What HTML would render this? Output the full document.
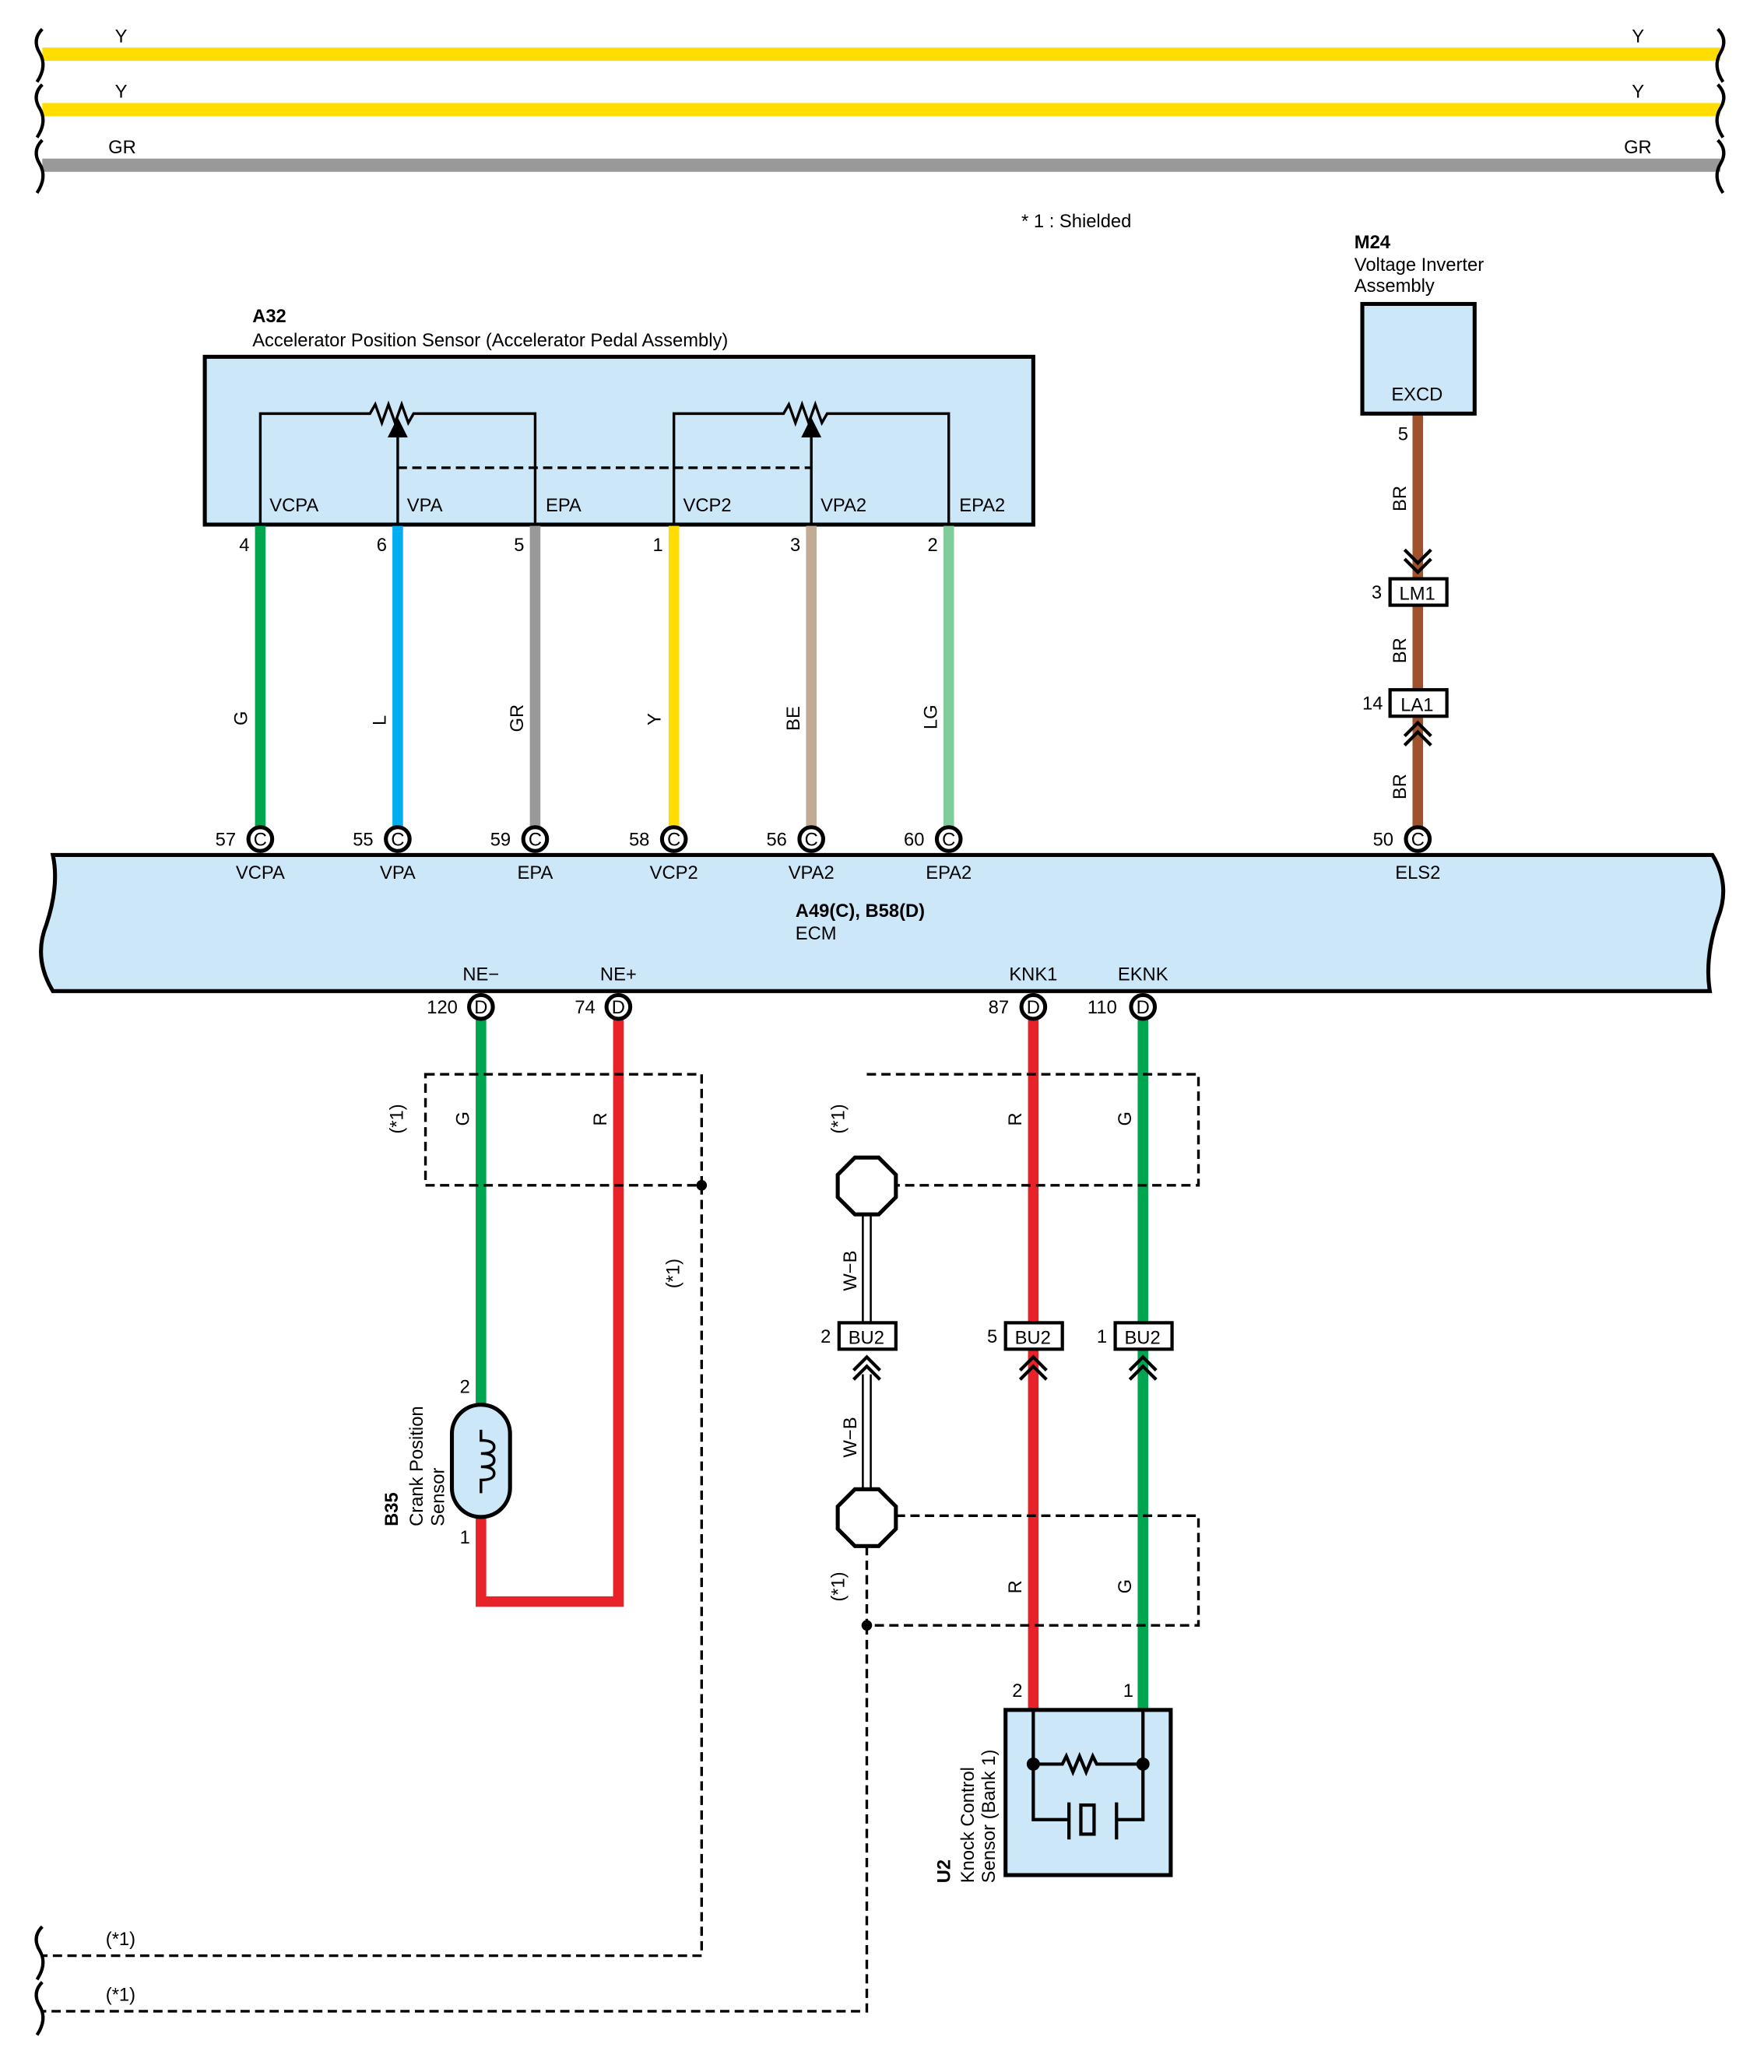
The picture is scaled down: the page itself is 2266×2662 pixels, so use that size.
<!DOCTYPE html>
<html><head><meta charset="utf-8"><style>
html,body{margin:0;padding:0;background:#fff}
svg{display:block}
text{font-family:"Liberation Sans",Arial,sans-serif;font-size:14px;fill:#000}
.b{font-weight:bold}
</style></head><body>
<svg width="2266" height="2662" viewBox="0 0 1335 1568" preserveAspectRatio="none" xmlns="http://www.w3.org/2000/svg">
<defs>
<g id="cC"><circle r="9" fill="#fff" stroke="#000" stroke-width="3"/><text x="0" y="5" text-anchor="middle" font-size="13">C</text></g>
<g id="cD"><circle r="9" fill="#fff" stroke="#000" stroke-width="3"/><text x="0" y="5" text-anchor="middle" font-size="13">D</text></g>
</defs>
<g stroke-width="10" fill="none">
<line x1="32" y1="41" x2="1302" y2="41" stroke="#ffdd00"/>
<line x1="32" y1="83" x2="1302" y2="83" stroke="#ffdd00"/>
<line x1="32" y1="125" x2="1302" y2="125" stroke="#999"/>
</g>
<g stroke="#000" stroke-width="2.5" fill="none">
<path d="M32 22 Q24 30 30 40 Q36 50 28 62"/>
<path d="M32 64 Q24 72 30 82 Q36 92 28 104"/>
<path d="M32 106 Q24 114 30 124 Q36 134 28 146"/>
<path d="M1300 22 Q1308 30 1302 40 Q1296 50 1304 62"/>
<path d="M1300 64 Q1308 72 1302 82 Q1296 92 1304 104"/>
<path d="M1300 106 Q1308 114 1302 124 Q1296 134 1304 146"/>
</g>
<text x="87" y="32">Y</text><text x="87" y="74">Y</text><text x="82" y="116">GR</text>
<text x="1235" y="32">Y</text><text x="1235" y="74">Y</text><text x="1229" y="116">GR</text>
<text x="773" y="172">* 1 : Shielded</text>

<text x="191" y="244" class="b">A32</text>
<text x="191" y="262">Accelerator Position Sensor (Accelerator Pedal Assembly)</text>
<rect x="155" y="270" width="627" height="127" fill="#cce8f8" stroke="#000" stroke-width="3"/>
<g stroke="#000" stroke-width="2" fill="none">
<path d="M197 397 V313 H280 l4 -7 l5 14 l5 -14 l5 14 l5 -14 l5 14 l4 -7 H405 V397"/>
<path d="M301 397 V322"/><path d="M295 330 L301 318 L307 330 Z" fill="#000"/>
<path d="M510 397 V313 H593 l4 -7 l5 14 l5 -14 l5 14 l5 -14 l5 14 l4 -7 H718 V397"/>
<path d="M614 397 V322"/><path d="M608 330 L614 318 L620 330 Z" fill="#000"/>
<path d="M301 354 H614" stroke-dasharray="7 4"/>
</g>
<text x="204" y="387">VCPA</text><text x="308" y="387">VPA</text><text x="413" y="387">EPA</text>
<text x="517" y="387">VCP2</text><text x="621" y="387">VPA2</text><text x="726" y="387">EPA2</text>
<g stroke-width="8">
<line x1="197" y1="398" x2="197" y2="626" stroke="#00a550"/>
<line x1="301" y1="398" x2="301" y2="626" stroke="#00aeef"/>
<line x1="405" y1="398" x2="405" y2="626" stroke="#999"/>
<line x1="510" y1="398" x2="510" y2="626" stroke="#ffdd00"/>
<line x1="614" y1="398" x2="614" y2="626" stroke="#c2ab95"/>
<line x1="718" y1="398" x2="718" y2="626" stroke="#80cc9a"/>
<line x1="1073" y1="313" x2="1073" y2="626" stroke="#a0522d"/>
</g>
<text x="181" y="417">4</text><text x="285" y="417">6</text><text x="389" y="417">5</text>
<text x="494" y="417">1</text><text x="598" y="417">3</text><text x="702" y="417">2</text>
<text transform="translate(187,549) rotate(-90)">G</text>
<text transform="translate(292,549) rotate(-90)">L</text>
<text transform="translate(396,554) rotate(-90)">GR</text>
<text transform="translate(500,549) rotate(-90)">Y</text>
<text transform="translate(605,553) rotate(-90)">BE</text>
<text transform="translate(709,552) rotate(-90)">LG</text>

<text x="1025" y="188" class="b">M24</text>
<text x="1025" y="205">Voltage Inverter</text><text x="1025" y="221">Assembly</text>
<rect x="1031" y="230" width="85" height="83" fill="#cce8f8" stroke="#000" stroke-width="3"/>
<text x="1053" y="303">EXCD</text>
<text x="1058" y="333">5</text>
<text transform="translate(1064,387) rotate(-90)">BR</text>
<text transform="translate(1064,502) rotate(-90)">BR</text>
<text transform="translate(1064,605) rotate(-90)">BR</text>
<g stroke="#000" stroke-width="2.5" fill="none">
<path d="M1063 416 L1073 426 L1083 416 M1063 423 L1073 433 L1083 423"/>
<path d="M1063 557 L1073 547 L1083 557 M1063 564 L1073 554 L1083 564"/>
</g>
<rect x="1052" y="438" width="43" height="20" fill="#fff" stroke="#000" stroke-width="2.5"/><text x="1059" y="454">LM1</text>
<rect x="1052" y="522" width="43" height="20" fill="#fff" stroke="#000" stroke-width="2.5"/><text x="1060" y="538">LA1</text>
<text x="1038" y="453">3</text><text x="1031" y="537">14</text>

<path d="M40 647 H1296 Q1310 670 1300 695 Q1290 725 1294 750 H40 Q25 725 35 700 Q45 670 40 647 Z" fill="#cce8f8" stroke="#000" stroke-width="3"/>
<use href="#cC" x="197" y="635"/><use href="#cC" x="301" y="635"/><use href="#cC" x="405" y="635"/>
<use href="#cC" x="510" y="635"/><use href="#cC" x="614" y="635"/><use href="#cC" x="718" y="635"/>
<use href="#cC" x="1073" y="635"/>
<text x="163" y="640">57</text><text x="267" y="640">55</text><text x="371" y="640">59</text>
<text x="476" y="640">58</text><text x="580" y="640">56</text><text x="684" y="640">60</text><text x="1039" y="640">50</text>
<g text-anchor="middle">
<text x="197" y="665">VCPA</text><text x="301" y="665">VPA</text><text x="405" y="665">EPA</text>
<text x="510" y="665">VCP2</text><text x="614" y="665">VPA2</text><text x="718" y="665">EPA2</text><text x="1073" y="665">ELS2</text>
<text x="364" y="742">NE−</text><text x="468" y="742">NE+</text><text x="782" y="742">KNK1</text><text x="865" y="742">EKNK</text>
</g>
<text x="602" y="694" class="b">A49(C), B58(D)</text><text x="602" y="711">ECM</text>

<g stroke-width="8" fill="none">
<line x1="364" y1="771" x2="364" y2="1066" stroke="#00a550"/>
<path d="M364 1146 V1212 H468 V771" stroke="#e82229"/>
<line x1="782" y1="771" x2="782" y2="1294" stroke="#e82229"/>
<line x1="865" y1="771" x2="865" y2="1294" stroke="#00a550"/>
</g>
<use href="#cD" x="364" y="762"/><use href="#cD" x="468" y="762"/><use href="#cD" x="782" y="762"/><use href="#cD" x="865" y="762"/>
<text x="323" y="767">120</text><text x="435" y="767">74</text><text x="748" y="767">87</text><text x="823" y="767">110</text>

<g stroke="#000" stroke-width="2" fill="none" stroke-dasharray="7 4">
<path d="M322 813 H531 V897 H322 Z"/>
<path d="M531 897 V1480 H32"/>
<path d="M656 813 H907 V897 H678"/>
<path d="M678 1147 H907 V1230 H656 V1170"/>
<path d="M656 1230 V1522 H32"/>
</g>
<circle cx="531" cy="897" r="4"/><circle cx="656" cy="1230" r="4"/>
<g stroke="#000" stroke-width="2.5" fill="none">
<path d="M32 1458 Q24 1466 30 1476 Q36 1486 28 1498"/>
<path d="M32 1500 Q24 1508 30 1518 Q36 1528 28 1540"/>
</g>
<text x="80" y="1472">(*1)</text><text x="80" y="1514">(*1)</text>
<text transform="translate(305,858) rotate(-90)">(*1)</text>
<text transform="translate(514,975) rotate(-90)">(*1)</text>
<text transform="translate(639,858) rotate(-90)">(*1)</text>
<text transform="translate(639,1212) rotate(-90)">(*1)</text>
<text transform="translate(355,852) rotate(-90)">G</text>
<text transform="translate(459,852) rotate(-90)">R</text>
<text transform="translate(773,852) rotate(-90)">R</text>
<text transform="translate(856,852) rotate(-90)">G</text>
<text transform="translate(773,1206) rotate(-90)">R</text>
<text transform="translate(856,1206) rotate(-90)">G</text>

<g stroke="#000" stroke-width="1.5">
<line x1="653" y1="918" x2="653" y2="1001"/><line x1="659" y1="918" x2="659" y2="1001"/>
<line x1="653" y1="1040" x2="653" y2="1127"/><line x1="659" y1="1040" x2="659" y2="1127"/>
</g>
<polygon points="647,876 665,876 678,889 678,906 665,919 647,919 634,906 634,889" fill="#fff" stroke="#000" stroke-width="3"/>
<polygon points="647,1127 665,1127 678,1140 678,1157 665,1170 647,1170 634,1157 634,1140" fill="#fff" stroke="#000" stroke-width="3"/>
<text transform="translate(648,977) rotate(-90)">W−B</text>
<text transform="translate(648,1103) rotate(-90)">W−B</text>
<g stroke="#000" stroke-width="2.5" fill="none">
<path d="M646 1037 L656 1027 L666 1037 M646 1044 L656 1034 L666 1044"/>
<path d="M772 1037 L782 1027 L792 1037 M772 1044 L782 1034 L792 1044"/>
<path d="M855 1037 L865 1027 L875 1037 M855 1044 L865 1034 L875 1044"/>
</g>
<rect x="635" y="1001" width="43" height="20" fill="#fff" stroke="#000" stroke-width="2.5"/><text x="642" y="1017">BU2</text>
<rect x="761" y="1001" width="43" height="20" fill="#fff" stroke="#000" stroke-width="2.5"/><text x="768" y="1017">BU2</text>
<rect x="844" y="1001" width="43" height="20" fill="#fff" stroke="#000" stroke-width="2.5"/><text x="851" y="1017">BU2</text>
<text x="621" y="1016">2</text><text x="747" y="1016">5</text><text x="830" y="1016">1</text>

<rect x="342" y="1063" width="44" height="85" rx="22" fill="#cce8f8" stroke="#000" stroke-width="3"/>
<path d="M364 1082 V1090 q10 0 10 5 q0 5 -10 5 q10 0 10 5 q0 5 -10 5 q10 0 10 5 q0 5 -10 5 V1130" stroke="#000" stroke-width="2" fill="none"/>
<text x="348" y="1054">2</text><text x="348" y="1168">1</text>
<text transform="translate(301,1155) rotate(-90)" class="b">B35</text>
<text transform="translate(320,1155) rotate(-90)">Crank Position</text>
<text transform="translate(336,1155) rotate(-90)">Sensor</text>

<rect x="761" y="1294" width="125" height="125" fill="#cce8f8" stroke="#000" stroke-width="3"/>
<g stroke="#000" stroke-width="2.5" fill="none">
<path d="M782 1294 V1377 H808 M865 1294 V1377 H846"/>
<path d="M782 1335 H804 l3 -6 l5 12 l5 -12 l5 12 l5 -12 l3 6 H865"/>
<path d="M809 1364 V1392 M845 1364 V1392"/>
<rect x="818" y="1366" width="10" height="22"/>
</g>
<circle cx="782" cy="1335" r="5"/><circle cx="865" cy="1335" r="5"/>
<text x="766" y="1284">2</text><text x="850" y="1284">1</text>
<text transform="translate(719,1425) rotate(-90)" class="b">U2</text>
<text transform="translate(737,1425) rotate(-90)">Knock Control</text>
<text transform="translate(753,1425) rotate(-90)">Sensor (Bank 1)</text>
</svg>
</body></html>
